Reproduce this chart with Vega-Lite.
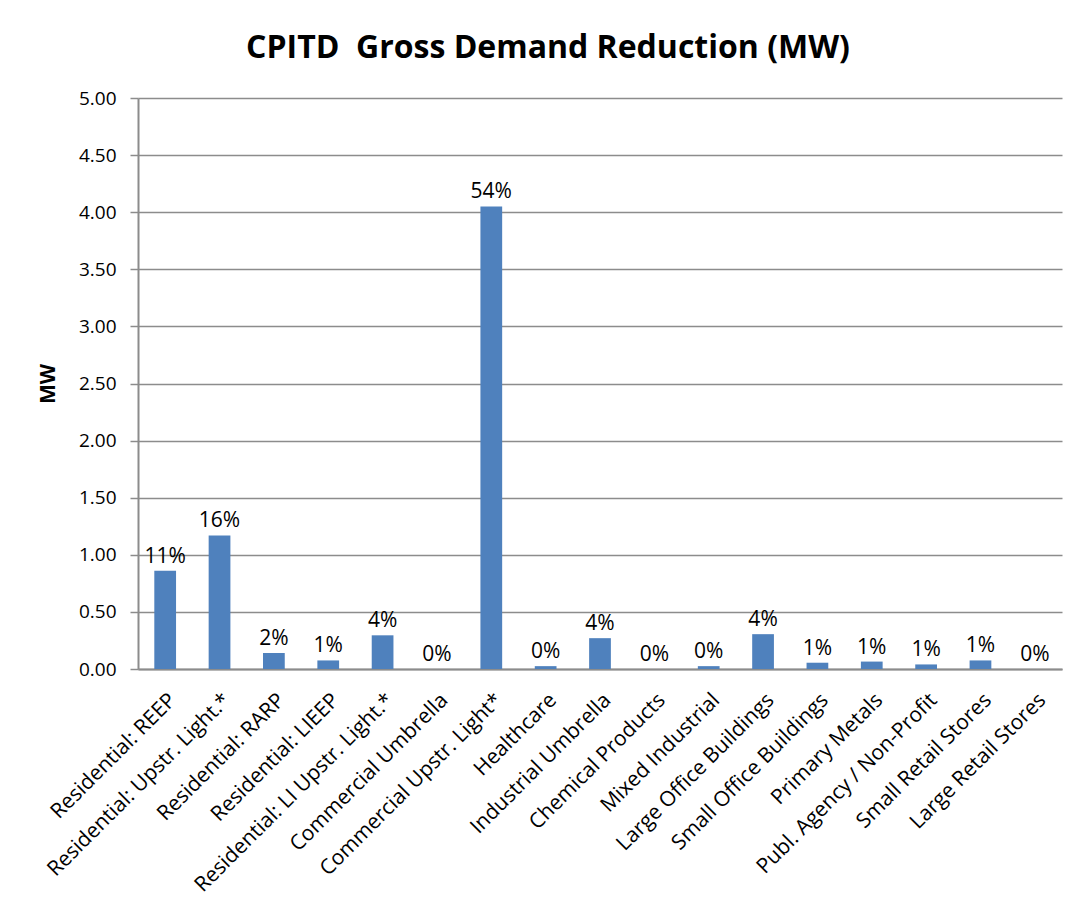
{
  "$schema": "https://vega.github.io/schema/vega-lite/v6.json",
  "autosize": {"type": "none"},
  "width": 924,
  "height": 571,
  "padding": {"left": 138, "top": 98, "right": 16, "bottom": 236},
  "background": "white",
  "title": {
    "text": "CPITD\u00a0 Gross Demand Reduction (MW)",
    "font": "Open Sans",
    "fontSize": 32,
    "fontWeight": "bold",
    "color": "#000000",
    "frame": "group",
    "anchor": "middle",
    "dx": -52,
    "offset": 24
  },
  "data": {
    "values": [
      {"program": "Residential: REEP", "mw": 0.86, "pct": "11%"},
      {"program": "Residential: Upstr. Light.*", "mw": 1.17, "pct": "16%"},
      {"program": "Residential: RARP", "mw": 0.14, "pct": "2%"},
      {"program": "Residential: LIEEP", "mw": 0.075, "pct": "1%"},
      {"program": "Residential: LI Upstr. Light.*", "mw": 0.295, "pct": "4%"},
      {"program": "Commercial Umbrella", "mw": 0, "pct": "0%"},
      {"program": "Commercial Upstr. Light*", "mw": 4.05, "pct": "54%"},
      {"program": "Healthcare", "mw": 0.025, "pct": "0%"},
      {"program": "Industrial Umbrella", "mw": 0.27, "pct": "4%"},
      {"program": "Chemical Products", "mw": 0, "pct": "0%"},
      {"program": "Mixed Industrial", "mw": 0.025, "pct": "0%"},
      {"program": "Large Office Buildings", "mw": 0.305, "pct": "4%"},
      {"program": "Small Office Buildings", "mw": 0.055, "pct": "1%"},
      {"program": "Primary Metals", "mw": 0.065, "pct": "1%"},
      {"program": "Publ. Agency / Non-Profit", "mw": 0.04, "pct": "1%"},
      {"program": "Small Retail Stores", "mw": 0.075, "pct": "1%"},
      {"program": "Large Retail Stores", "mw": 0, "pct": "0%"}
    ]
  },
  "encoding": {
    "x": {
      "field": "program",
      "type": "nominal",
      "sort": null,
      "scale": {"paddingInner": 0.6, "paddingOuter": 0.3},
      "axis": {
        "title": null,
        "labelAngle": -45,
        "labelFont": "Open Sans",
        "labelFontSize": 21,
        "labelColor": "#000000",
        "labelPadding": 20,
        "ticks": false,
        "domainColor": "#8c8c8c",
        "domainWidth": 2,
        "labelLimit": 400
      }
    },
    "y": {
      "field": "mw",
      "type": "quantitative",
      "scale": {"domain": [0, 5], "nice": false},
      "axis": {
        "title": "MW",
        "titleFont": "Open Sans",
        "titleFontSize": 21,
        "titleFontWeight": "bold",
        "titleColor": "#000000",
        "titlePadding": 20,
        "values": [0, 0.5, 1, 1.5, 2, 2.5, 3, 3.5, 4, 4.5, 5],
        "format": ".2f",
        "labelFont": "Open Sans",
        "labelFontSize": 19,
        "labelColor": "#000000",
        "labelPadding": 14,
        "tickSize": 8,
        "tickColor": "#8c8c8c",
        "tickWidth": 1.5,
        "domainColor": "#8c8c8c",
        "domainWidth": 2,
        "grid": true,
        "gridColor": "#8c8c8c",
        "gridWidth": 1.5
      }
    }
  },
  "layer": [
    {"mark": {"type": "bar", "color": "#4F81BD"}},
    {
      "mark": {
        "type": "text",
        "font": "Open Sans",
        "fontSize": 21,
        "color": "#000000",
        "baseline": "alphabetic",
        "dy": -8
      },
      "encoding": {"text": {"field": "pct", "type": "nominal"}}
    }
  ],
  "config": {"view": {"stroke": null}}
}
